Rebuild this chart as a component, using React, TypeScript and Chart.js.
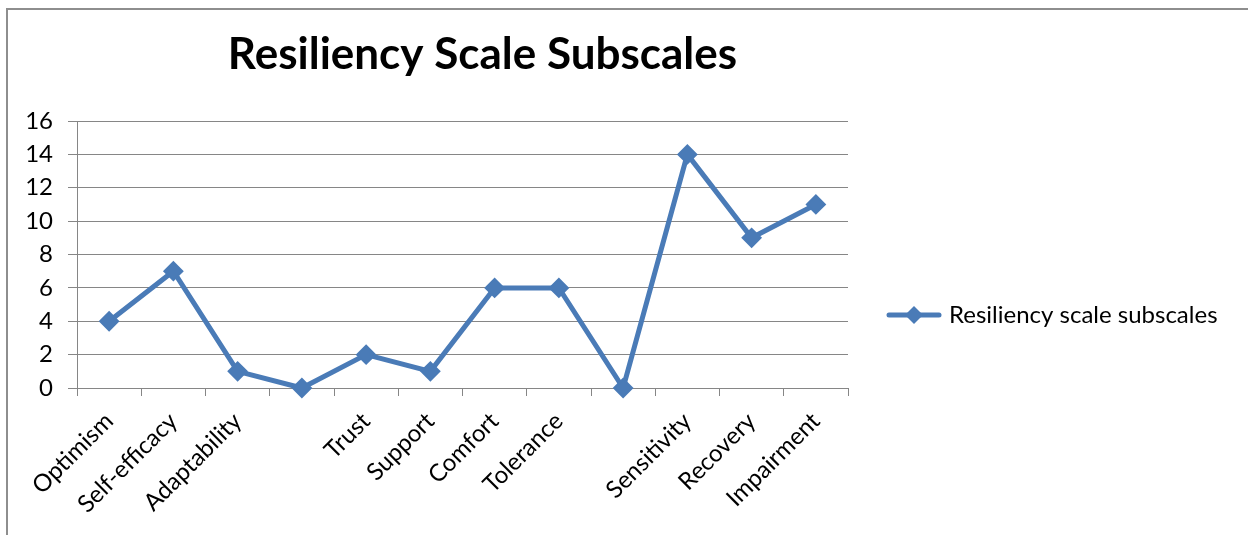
import React, { useEffect, useRef } from 'react';
import { Chart, registerables } from 'chart.js';

Chart.register(...registerables);

const categories = ['Optimism', 'Self-efficacy', 'Adaptability', '', 'Trust', 'Support', 'Comfort', 'Tolerance', '', 'Sensitivity', 'Recovery', 'Impairment'];
const subscaleValues = [4, 7, 1, 0, 2, 1, 6, 6, 0, 14, 9, 11];
const seriesLabel = 'Resiliency scale subscales';
const chartTitle = 'Resiliency Scale Subscales';
const yMin = 0;
const yMax = 16;
const yStep = 2;

const FONT = 'Lato, "Open Sans", sans-serif';
const LINE = '#4a7bb7';
const GRID = '#868686';
const W = 1248;
const H = 535;

export default function App() {
  const ref = useRef<HTMLCanvasElement>(null);

  useEffect(() => {
    const canvas = ref.current;
    if (!canvas) return;

    // legend symbol: line with diamond marker
    const sym = document.createElement('canvas');
    sym.width = 56;
    sym.height = 20;
    const s = sym.getContext('2d')!;
    s.strokeStyle = LINE;
    s.lineWidth = 5;
    s.lineCap = 'round';
    s.beginPath();
    s.moveTo(3, 10);
    s.lineTo(53, 10);
    s.stroke();
    s.fillStyle = LINE;
    s.beginPath();
    s.moveTo(28, 1);
    s.lineTo(37, 10);
    s.lineTo(28, 19);
    s.lineTo(19, 10);
    s.closePath();
    s.fill();

    const smallFont = 24;
    const legendPadding = 43;
    const boxW = 46;
    const plotRight = 848;
    // Chart.js caps a vertical box at availableWidth / 4 (two vertical boxes)
    const padRight = W - (plotRight * 4) / 3;

    const layoutTweak = {
      id: 'layoutTweak',
      afterLayout(chart: any) {
        const t = chart.titleBlock;
        const ca = chart.chartArea;
        if (t) {
          const center = (ca.left + ca.right) / 2 + 20;
          const half = (t.right - t.left) / 2;
          t.left = center - half;
          t.right = center + half;
        }
        const lg = chart.legend;
        if (lg) {
          lg.top = 95;
          lg.height = lg.bottom - lg.top;
          lg.right = chart.width;
          lg.width = lg.right - lg.left;
        }
      },
    };

    const chart = new Chart(canvas, {
      type: 'line',
      data: {
        labels: categories,
        datasets: [
          {
            label: seriesLabel,
            data: subscaleValues,
            borderColor: LINE,
            backgroundColor: LINE,
            borderWidth: 5,
            tension: 0,
            pointStyle: 'rectRot',
            pointRadius: 9,
            pointBorderWidth: 2,
            pointBackgroundColor: LINE,
            pointBorderColor: LINE,
            fill: false,
            clip: false,
          } as any,
        ],
      },
      options: {
        animation: false,
        responsive: false,
        maintainAspectRatio: false,
        layout: { padding: { left: 0, right: padRight, top: 0, bottom: 0 } },
        plugins: {
          title: {
            display: true,
            text: chartTitle,
            color: '#000',
            font: { family: FONT, size: 44, weight: 'bold' },
            padding: { top: 28.2, bottom: 40 },
          },
          legend: {
            display: true,
            position: 'right',
            align: 'center',
            labels: {
              usePointStyle: true,
              pointStyle: sym as any,
              pointStyleWidth: boxW,
              padding: legendPadding,
              color: '#000',
              font: { family: FONT, size: smallFont },
            },
          },
          tooltip: { enabled: false },
        },
        scales: {
          x: {
            type: 'category',
            offset: true,
            grid: {
              offset: true,
              display: true,
              drawOnChartArea: false,
              drawTicks: true,
              tickLength: 8,
              color: GRID,
              lineWidth: 1,
            },
            border: { display: true, color: GRID, width: 1 },
            ticks: {
              autoSkip: false,
              minRotation: 45,
              maxRotation: 45,
              padding: 11,
              color: '#000',
              font: { family: FONT, size: smallFont },
            },
            afterFit(scale: any) {
              scale.height = H - 388;
            },
          },
          y: {
            min: yMin,
            max: yMax,
            grid: {
              display: true,
              drawTicks: true,
              tickLength: 9,
              color: GRID,
              lineWidth: 1,
            },
            border: { display: true, color: GRID, width: 1 },
            ticks: {
              stepSize: yStep,
              padding: 15,
              color: '#000',
              font: { family: FONT, size: smallFont },
            },
            afterFit(scale: any) {
              scale.width = 77;
            },
          },
        },
      },
      plugins: [layoutTweak],
    });

    return () => chart.destroy();
  }, []);

  return (
    <div style={{ position: 'fixed', left: 0, top: 0, width: W, height: H, overflow: 'hidden', background: '#fff' }}>
      <div
        style={{
          position: 'absolute',
          left: 6,
          top: 8,
          width: W + 40,
          height: H + 40,
          border: '2px solid #8e8e8e',
          boxSizing: 'border-box',
        }}
      />
      <canvas ref={ref} width={W} height={H} style={{ position: 'absolute', left: 0, top: 0, width: W, height: H }} />
    </div>
  );
}
